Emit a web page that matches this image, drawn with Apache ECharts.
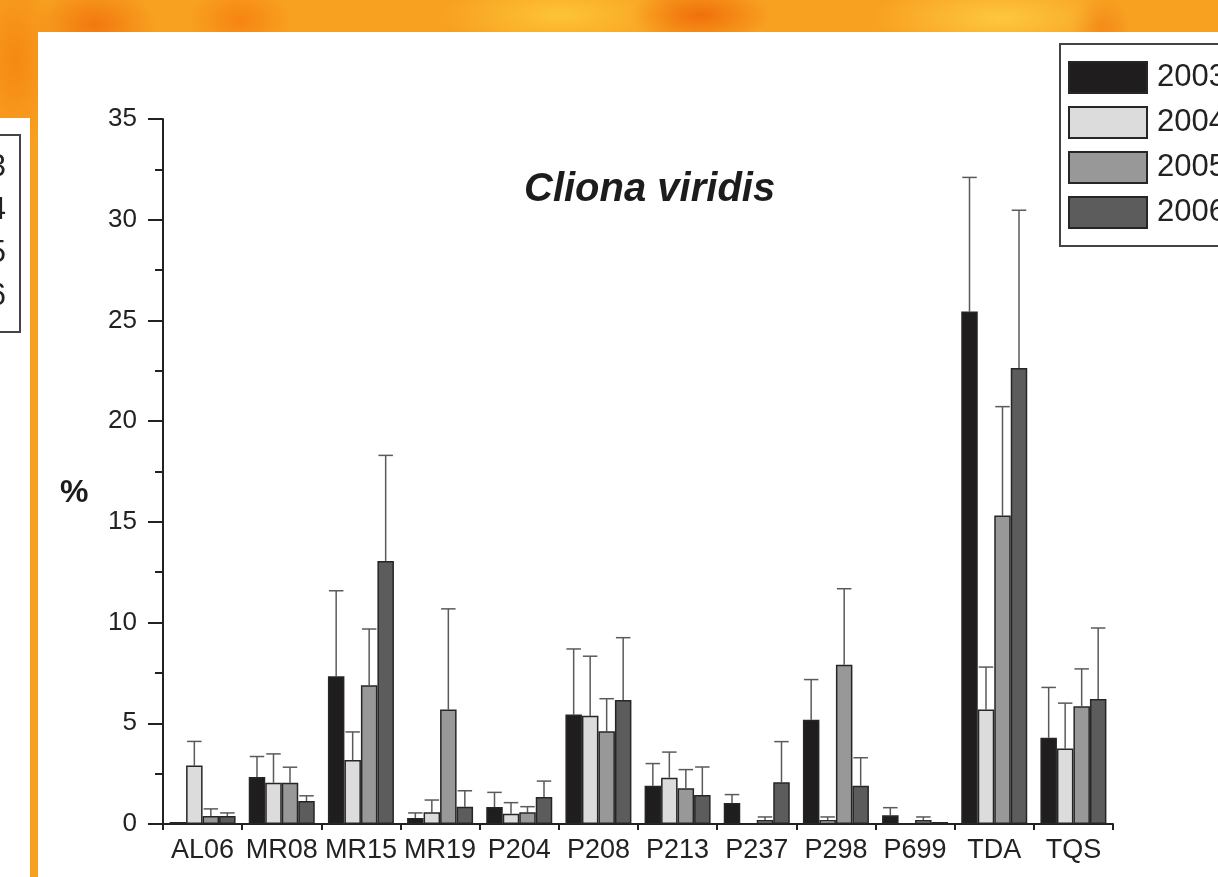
<!DOCTYPE html>
<html>
<head>
<meta charset="utf-8">
<script src="https://cdn.jsdelivr.net/npm/echarts@6/dist/echarts.min.js"></script>
<style>
  html, body { margin: 0; padding: 0; }
  body {
    width: 1218px; height: 877px; overflow: hidden; position: relative;
    background:
      radial-gradient(ellipse 60px 40px at 95px 25px, rgba(240,110,10,0.8), rgba(240,110,10,0)),
      radial-gradient(ellipse 50px 35px at 240px 20px, rgba(245,120,10,0.7), rgba(245,120,10,0)),
      radial-gradient(ellipse 70px 30px at 700px 15px, rgba(238,100,5,0.8), rgba(238,100,5,0)),
      radial-gradient(ellipse 120px 40px at 560px 15px, rgba(255,205,60,0.8), rgba(255,205,60,0)),
      radial-gradient(ellipse 130px 40px at 1000px 18px, rgba(255,210,70,0.8), rgba(255,210,70,0)),
      radial-gradient(ellipse 30px 30px at 1100px 25px, rgba(240,110,10,0.7), rgba(240,110,10,0)),
      radial-gradient(ellipse 40px 90px at 15px 60px, rgba(245,130,15,0.8), rgba(245,130,15,0)),
      #f8a020;
  }
  #panel { position: absolute; left: 38px; top: 32px; width: 1180px; height: 845px; background: #fff; }
  #side { position: absolute; left: 0; top: 118px; width: 30px; height: 759px; background: #fff; }
  #chart { position: absolute; left: 0; top: 0; width: 1218px; height: 877px; }
</style>
</head>
<body>
<div id="panel"></div>
<div id="side"></div>
<div id="chart"></div>
<script>
// Cliona viridis cover (%) per site and year, with error (upper SD)
var categories = ["AL06", "MR08", "MR15", "MR19", "P204", "P208", "P213", "P237", "P298", "P699", "TDA", "TQS"];
var years = ["2003", "2004", "2005", "2006"];

var v2003 = [0.1, 2.33, 7.33, 0.3, 0.84, 5.43, 1.9, 1.04, 5.18, 0.43, 25.44, 4.28];
var v2004 = [2.9, 2.05, 3.18, 0.58, 0.51, 5.38, 2.3, 0, 0.2, 0, 5.69, 3.75];
var v2005 = [0.4, 2.05, 6.89, 5.68, 0.58, 4.6, 1.77, 0.2, 7.91, 0.2, 15.31, 5.85];
var v2006 = [0.4, 1.14, 13.06, 0.86, 1.34, 6.16, 1.44, 2.07, 1.9, 0.1, 22.64, 6.2];

var sd2003 = [0, 1.02, 4.25, 0.25, 0.73, 3.26, 1.1, 0.42, 1.99, 0.38, 6.66, 2.5];
var sd2004 = [1.2, 1.43, 1.39, 0.61, 0.55, 2.95, 1.27, 0, 0.15, 0, 2.1, 2.25];
var sd2005 = [0.35, 0.77, 2.79, 5.0, 0.28, 1.62, 0.93, 0.15, 3.77, 0.15, 5.41, 1.85];
var sd2006 = [0.15, 0.26, 5.24, 0.79, 0.79, 3.09, 1.39, 2.02, 1.39, 0, 7.83, 3.53];

var yTicks = [0, 5, 10, 15, 20, 25, 30, 35];

var values = [v2003, v2004, v2005, v2006];
var sds = [sd2003, sd2004, sd2005, sd2006];
var colors = ["#1f1d1e", "#dcdcdc", "#989898", "#5c5c5c"];
var barW = 16.5;
var font = "Liberation Sans, Arial, sans-serif";

var chart = echarts.init(document.getElementById("chart"));

var series = [];
years.forEach(function (y, i) {
  series.push({
    name: y,
    type: "bar",
    barWidth: barW,
    barGap: "0%",
    data: values[i],
    itemStyle: { color: colors[i], borderColor: "#262626", borderWidth: 1.5 }
  });
});
// error bars, drawn above each bar
years.forEach(function (y, i) {
  var errData = values[i].map(function (v, k) { return [k, v, v + sds[i][k]]; })
    .filter(function (d) { return d[2] > d[1]; });
  series.push({
    name: y,
    type: "custom",
    z: 1,
    data: errData,
    renderItem: function (params, api) {
      var lo = api.coord([api.value(0), api.value(1)]);
      var hi = api.coord([api.value(0), api.value(2)]);
      var x = lo[0] + (i - 1.5) * barW;
      var half = barW / 2 - 1;
      var st = { stroke: "#5a5a5a", lineWidth: 1.5 };
      return {
        type: "group",
        children: [
          { type: "line", shape: { x1: x, y1: lo[1], x2: x, y2: hi[1] }, style: st },
          { type: "line", shape: { x1: x - half, y1: hi[1], x2: x + half, y2: hi[1] }, style: st }
        ]
      };
    }
  });
});

var option = {
  animation: false,
  textStyle: { fontFamily: font },
  grid: { left: 163, right: 105, top: 119, bottom: 53 },
  legend: {
    data: years,
    orient: "vertical",
    left: 1060,
    top: 44,
    itemWidth: 78,
    itemHeight: 31,
    itemGap: 12,
    padding: [17, 60, 17, 8],
    borderColor: "#444",
    borderWidth: 2,
    icon: "rect",
    textStyle: { fontSize: 31, color: "#222", padding: [0, 0, 0, 5] }
  },
  xAxis: {
    type: "category",
    data: categories,
    axisLine: { lineStyle: { color: "#222", width: 2 } },
    axisTick: { show: true, length: 6, lineStyle: { color: "#222", width: 2 } },
    axisLabel: { fontSize: 27, color: "#222", margin: 13, interval: 0 }
  },
  yAxis: {
    type: "value",
    min: 0,
    max: 35,
    interval: 5,
    splitLine: { show: false },
    axisLine: { show: true, lineStyle: { color: "#222", width: 2 } },
    axisTick: { show: true, inside: false, length: 15, lineStyle: { color: "#222", width: 2 } },
    minorTick: { show: true, splitNumber: 2, length: 8, lineStyle: { color: "#222", width: 2 } },
    axisLabel: {
      fontSize: 26, color: "#222", margin: 26,
      formatter: function (v) { return yTicks.indexOf(v) >= 0 ? String(v) : ""; }
    }
  },
  graphic: [
    {
      type: "text", left: 524, top: 170,
      style: { text: "Cliona viridis", fontSize: 40, fontWeight: "bold", fontStyle: "italic", fill: "#1c1c1c", fontFamily: font }
    },
    {
      type: "text", left: 60, top: 477,
      style: { text: "%", fontSize: 32, fontWeight: "bold", fill: "#1c1c1c", fontFamily: font }
    },
    {
      type: "rect", shape: { x: -20, y: 135, width: 40, height: 197 },
      style: { fill: "#fff", stroke: "#444", lineWidth: 2 }
    },
    { type: "text", x: 6, y: 167, style: { text: "2003", fontSize: 31, fill: "#222", align: "right", verticalAlign: "middle", fontFamily: font } },
    { type: "text", x: 6, y: 210, style: { text: "2004", fontSize: 31, fill: "#222", align: "right", verticalAlign: "middle", fontFamily: font } },
    { type: "text", x: 6, y: 253, style: { text: "2005", fontSize: 31, fill: "#222", align: "right", verticalAlign: "middle", fontFamily: font } },
    { type: "text", x: 6, y: 296, style: { text: "2006", fontSize: 31, fill: "#222", align: "right", verticalAlign: "middle", fontFamily: font } }
  ],
  series: series
};

chart.setOption(option);
</script>
</body>
</html>
